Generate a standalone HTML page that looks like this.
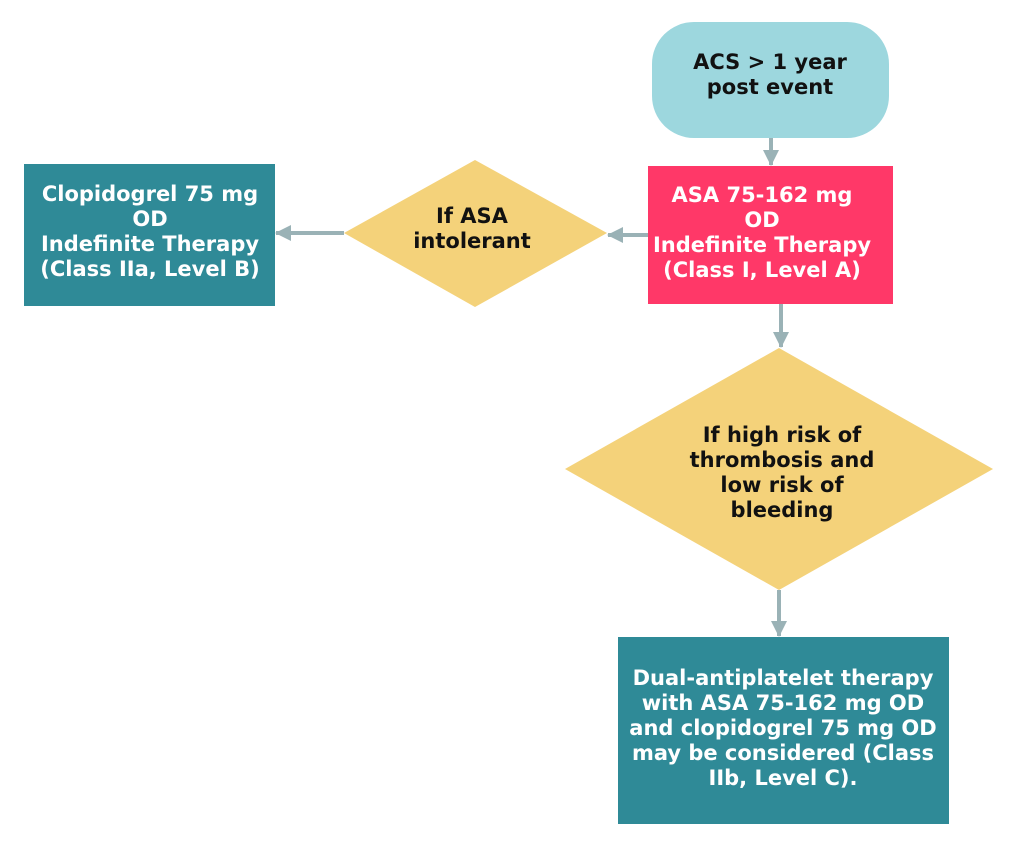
<!DOCTYPE html>
<html><head><meta charset="utf-8"><style>
html,body{margin:0;padding:0;background:#fff;}
svg{display:block}
text{font-family:"DejaVu Sans","Liberation Sans",sans-serif;font-weight:bold;font-size:21px;text-anchor:middle}
</style></head><body>
<svg width="1024" height="848" viewBox="0 0 1024 848">
<defs>
<marker id="a" markerWidth="18" markerHeight="18" refX="15" refY="9" orient="auto" markerUnits="userSpaceOnUse">
<path d="M0,1 L16,9 L0,17 z" fill="#9ab2b6"/></marker>
</defs>
<rect x="652" y="22" width="237" height="116" rx="42" fill="#9dd7de"/>
<text fill="#111" x="770" y="69">ACS &gt; 1 year</text>
<text fill="#111" x="770" y="94">post event</text>
<line x1="771" y1="138" x2="771" y2="165" stroke="#9ab2b6" stroke-width="4" marker-end="url(#a)"/>
<rect x="648" y="166" width="245" height="138" fill="#ff3868"/>
<g fill="#fff">
<text x="762" y="202">ASA 75-162 mg</text>
<text x="762" y="227">OD</text>
<text x="762" y="252">Indefinite Therapy</text>
<text x="762" y="277">(Class I, Level A)</text>
</g>
<line x1="648" y1="235" x2="608" y2="235" stroke="#9ab2b6" stroke-width="4" marker-end="url(#a)"/>
<polygon points="475,160 607,233 475,307 344,233" fill="#f4d27a"/>
<text fill="#111" x="472" y="223">If ASA</text>
<text fill="#111" x="472" y="248">intolerant</text>
<line x1="344" y1="233" x2="276" y2="233" stroke="#9ab2b6" stroke-width="4" marker-end="url(#a)"/>
<rect x="24" y="164" width="251" height="142" fill="#2f8a97"/>
<g fill="#fff">
<text x="150" y="201">Clopidogrel 75 mg</text>
<text x="150" y="226">OD</text>
<text x="150" y="251">Indefinite Therapy</text>
<text x="150" y="276">(Class IIa, Level B)</text>
</g>
<line x1="781" y1="304" x2="781" y2="347" stroke="#9ab2b6" stroke-width="4" marker-end="url(#a)"/>
<polygon points="779,348 993,469 779,590 565,469" fill="#f4d27a"/>
<g fill="#111">
<text x="782" y="442">If high risk of</text>
<text x="782" y="467">thrombosis and</text>
<text x="782" y="492">low risk of</text>
<text x="782" y="517">bleeding</text>
</g>
<line x1="779" y1="590" x2="779" y2="636" stroke="#9ab2b6" stroke-width="4" marker-end="url(#a)"/>
<rect x="618" y="637" width="331" height="187" fill="#2f8a97"/>
<g fill="#fff">
<text x="783" y="685">Dual-antiplatelet therapy</text>
<text x="783" y="710">with ASA 75-162 mg OD</text>
<text x="783" y="735">and clopidogrel 75 mg OD</text>
<text x="783" y="760">may be considered (Class</text>
<text x="783" y="785">IIb, Level C).</text>
</g>
</svg>
</body></html>
